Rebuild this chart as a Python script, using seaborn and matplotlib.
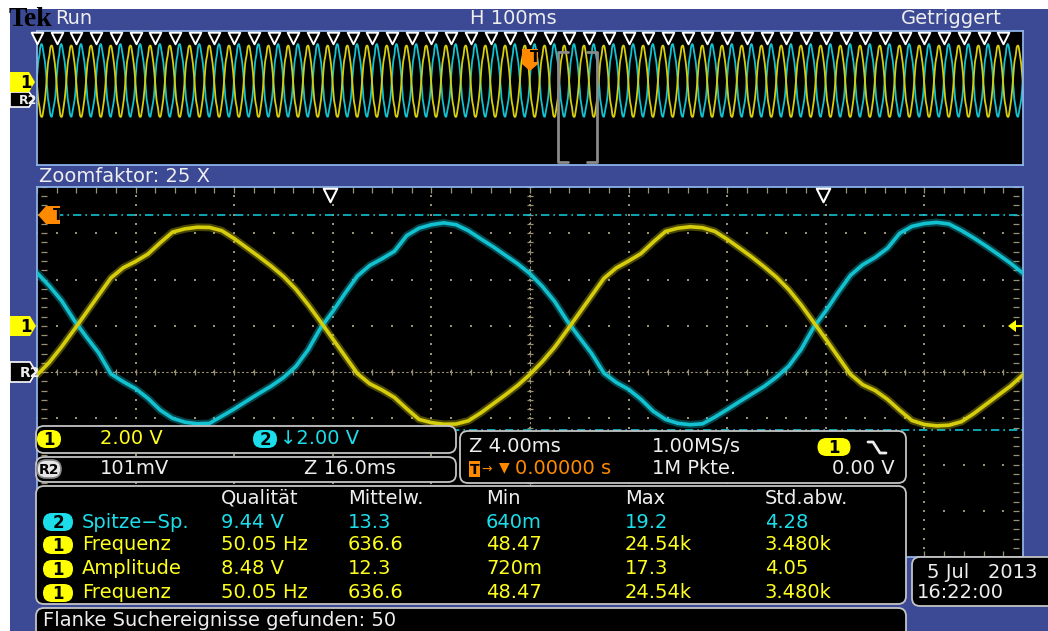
import numpy as np
import matplotlib
matplotlib.use("Agg")
import matplotlib.pyplot as plt
from matplotlib.patches import FancyBboxPatch, Polygon, Rectangle
from matplotlib.lines import Line2D
from matplotlib.transforms import Affine2D
import seaborn as sns

sample_ms = 0.5          # spacing of the read samples (zoom window, 4 ms/div)
# channel 1 (yellow) in volts, zoom window 0..40 ms
yellow_v = [-2.13, -1.58, -0.91, -0.18, 0.57, 1.32, 2.07, 2.51, 2.78, 3.10,
            3.59, 4.05, 4.19, 4.26, 4.25, 4.11, 3.77, 3.38, 2.99, 2.58,
            2.13, 1.58, 0.91, 0.18, -0.57, -1.32, -2.07, -2.51, -2.78, -3.10,
            -3.59, -4.05, -4.19, -4.26, -4.25, -4.11, -3.77, -3.38, -2.99, -2.58,
            -2.10, -1.55, -0.93, -0.20, 0.55, 1.30, 2.05, 2.50, 2.80, 3.12,
            3.62, 4.08, 4.22, 4.28, 4.24, 4.08, 3.74, 3.36, 2.97, 2.55,
            2.10, 1.56, 0.90, 0.16, -0.58, -1.34, -2.10, -2.55, -2.80, -3.18,
            -3.66, -4.10, -4.27, -4.33, -4.30, -4.15, -3.80, -3.40, -3.00, -2.60,
            -2.12]
# channel 2 (cyan, inverted display) in volts
cyan_v = [2.29, 1.72, 1.08, 0.25, -0.48, -1.17, -2.08, -2.42, -2.72, -3.14,
          -3.65, -4.00, -4.17, -4.24, -4.22, -3.91, -3.60, -3.26, -2.93, -2.61,
          -2.24, -1.76, -1.04, -0.10, 0.62, 1.41, 2.15, 2.61, 2.90, 3.22,
          3.90, 4.22, 4.37, 4.45, 4.37, 4.11, 3.76, 3.42, 3.05, 2.68,
          2.25, 1.70, 1.05, 0.22, -0.50, -1.20, -2.05, -2.45, -2.75, -3.18,
          -3.70, -4.05, -4.22, -4.28, -4.24, -3.95, -3.62, -3.28, -2.95, -2.62,
          -2.22, -1.74, -1.02, -0.08, 0.64, 1.44, 2.18, 2.64, 2.95, 3.35,
          4.00, 4.30, 4.42, 4.47, 4.40, 4.12, 3.80, 3.45, 3.08, 2.70,
          2.27]
period_ms = 20.0
trigger_ms = 500.0
zoom_start_ms = 528.1
zoom_span_ms = 40.0
# found edge events (falling edges of ch1) over the 1 s record
event_ms = [0, 20, 40, 60, 80, 100, 120, 140, 160, 180, 200, 220, 240, 260, 280,
            300, 320, 340, 360, 380, 400, 420, 440, 460, 480, 500, 520, 540, 560,
            580, 600, 620, 640, 660, 680, 700, 720, 740, 760, 780, 800, 820, 840,
            860, 880, 900, 920, 940, 960, 980]
level_hi_v = 4.8
level_lo_v = -4.5

meas_head = ["Qualität", "Mittelw.", "Min", "Max", "Std.abw."]
meas_src = ["2", "1", "1", "1"]
meas_name = ["Spitze\u2212Sp.", "Frequenz", "Amplitude", "Frequenz"]
meas_qual = ["9.44 V", "50.05 Hz", "8.48 V", "50.05 Hz"]
meas_mean = ["13.3", "636.6", "12.3", "636.6"]
meas_min = ["640m", "48.47", "720m", "48.47"]
meas_max = ["19.2", "24.54k", "17.3", "24.54k"]
meas_std = ["4.28", "3.480k", "4.05", "3.480k"]

# ---- colours ----
BLUE = "#3C4A95"
YEL = "#D6CE0C"
CYA = "#12C2D0"
YEL_T = "#FFFF1E"
CYA_T = "#1CDDEA"
ORANGE = "#FF8A00"
GRID = "#9A9074"
BORDER = "#8DB2E6"
EDGE = "#C4C4C4"
WHITE = "#EEEEEE"

sns.set_theme(style="dark", rc={"axes.facecolor": "black"})
plt.rcParams["font.family"] = ["DejaVu Sans"]

W, H = 1048, 631
fig = plt.figure(figsize=(W / 100, H / 100), dpi=100, facecolor="white")
# pixel coordinates, origin top-left
pix = Affine2D().scale(0.01, -0.01).translate(0, H / 100) + fig.dpi_scale_trans

fig.add_artist(Rectangle((10, 9), W, H, transform=pix, facecolor=BLUE,
                         edgecolor="none", zorder=-10))


def txt(x, y, s, c=WHITE, size=14, ha="left", weight="normal", z=10, **kw):
    fig.text(x, y, s, transform=pix, color=c, fontsize=size, ha=ha,
             va="center", fontweight=weight, zorder=z, **kw)


def poly(pts, fc, ec="none", lw=1.0, z=6):
    fig.add_artist(Polygon(pts, closed=True, transform=pix, facecolor=fc,
                           edgecolor=ec, lw=lw, zorder=z))


def panel(x0, y0, x1, y1, r=8):
    fig.add_artist(FancyBboxPatch((x0, y0), x1 - x0, y1 - y0,
                                  boxstyle=f"round,pad=0,rounding_size={r}",
                                  transform=pix, facecolor="black",
                                  edgecolor=EDGE, lw=1.3, zorder=5))


def pill(xc, yc, label, fc, tc="black", w=26, h=18, size=12, ec="none"):
    fig.add_artist(FancyBboxPatch((xc - w / 2, yc - h / 2), w, h,
                                  boxstyle=f"round,pad=0,rounding_size={h / 2}",
                                  transform=pix, facecolor=fc, edgecolor=ec,
                                  lw=1.2, zorder=7))
    txt(xc, yc + 1, label, c=tc, size=size, ha="center", weight="bold")


def plain(ax, lim_x, lim_y):
    ax.set_facecolor("black")
    ax.set_xlim(*lim_x)
    ax.set_ylim(*lim_y)
    ax.set_xticks([])
    ax.set_yticks([])
    ax.set_xlabel("")
    ax.set_ylabel("")
    for s in ax.spines.values():
        s.set_visible(True)
        s.set_color(BORDER)
        s.set_linewidth(1.3)


# ---- overview (1 s record) ----
ax_ov = fig.add_axes([37 / W, 1 - 165 / H, 986 / W, 134 / H])
plain(ax_ov, (0, 1000), (-10, 6))
n_per = int(period_ms / sample_ms)
reps = 53
t_ov = zoom_start_ms - 27 * period_ms + np.arange(n_per * reps) * sample_ms
sns.lineplot(x=t_ov, y=np.tile(cyan_v[:n_per], reps), ax=ax_ov, color=CYA,
             lw=1.3, estimator=None, sort=False, legend=False)
sns.lineplot(x=t_ov, y=np.tile(yellow_v[:n_per], reps), ax=ax_ov, color=YEL,
             lw=1.3, estimator=None, sort=False, legend=False)
ax_ov.scatter(event_ms, [0.948] * len(event_ms), marker="v", s=70,
              facecolor="black", edgecolor="white", lw=1.4,
              transform=ax_ov.get_xaxis_transform(), clip_on=False, zorder=5)
zs, ze = zoom_start_ms, zoom_start_ms + zoom_span_ms
for xa, xb in ((zs, zs + 10), (ze, ze - 10)):
    ax_ov.plot([xb, xa, xa, xb], [0.843, 0.843, 0.022, 0.022], color="#8A8A8A",
               lw=2, transform=ax_ov.get_xaxis_transform(), zorder=6)
ax_ov.set_xlim(0, 1000)

# ---- zoom window graticule ----
ax = fig.add_axes([37 / W, 1 - 557 / H, 986 / W, 370 / H])
plain(ax, (0, 40), (-10, 6))
xs_major = np.arange(4, 40, 4)
ys_major = np.arange(-8, 6, 2)
ys_minor = np.linspace(-10, 6, 41)
xs_minor = np.linspace(0, 40, 51)
gx, gy = np.meshgrid(xs_major, ys_minor)
ax.scatter(gx.ravel(), gy.ravel(), s=2.4, marker="s", color=GRID, lw=0, zorder=1)
gx, gy = np.meshgrid(xs_minor, ys_major)
ax.scatter(gx.ravel(), gy.ravel(), s=2.4, marker="s", color=GRID, lw=0, zorder=1)
ax.axvline(20, color=GRID, lw=0.8, ls=(0, (2, 2)), zorder=1)
ax.axhline(-2, color=GRID, lw=0.8, ls=(0, (2, 2)), zorder=1)
ax.plot([20] * len(ys_minor), ys_minor, ls="none", marker="_", ms=5, mew=0.9,
        color=GRID, zorder=1)
ax.plot(xs_minor, [-2] * len(xs_minor), ls="none", marker="|", ms=5, mew=0.9,
        color=GRID, zorder=1)
for xe in (0.3, 39.7):
    ax.plot([xe] * len(ys_minor), ys_minor, ls="none", marker="_", ms=4,
            mew=0.9, color=GRID, zorder=1)
for ye in (-9.85, 5.85):
    ax.plot(xs_minor, [ye] * len(xs_minor), ls="none", marker="|", ms=4,
            mew=0.9, color=GRID, zorder=1)

ax.axhline(level_hi_v, color=CYA, lw=1.2, ls=(0, (5, 2.4, 1, 2.4)), zorder=2)
ax.axhline(level_lo_v, color=CYA, lw=1.2, ls=(0, (5, 2.4, 1, 2.4)), zorder=2)

t_main = np.arange(len(yellow_v)) * sample_ms
for vals, col in ((cyan_v, CYA), (yellow_v, YEL)):
    sns.lineplot(x=t_main, y=vals, ax=ax, color=col, lw=5.5, alpha=0.35,
                 estimator=None, sort=False, legend=False, zorder=3)
    sns.lineplot(x=t_main, y=vals, ax=ax, color=col, lw=2.6,
                 estimator=None, sort=False, legend=False, zorder=4)
zoom_events = [e - zoom_start_ms for e in event_ms if zs <= e <= ze]
ax.scatter(zoom_events, [0.978] * len(zoom_events), marker="v", s=95,
           facecolor="black", edgecolor="white", lw=1.5,
           transform=ax.get_xaxis_transform(), clip_on=False, zorder=6)
ax.set_xlim(0, 40)
ax.set_ylim(-10, 6)

# ---- top bar ----
txt(9, 19, "Tek", c="black", size=20, weight="bold", family="Liberation Serif")
txt(55, 19, "Run")
txt(470, 19, "H 100ms")
txt(1002, 19, "Getriggert", ha="right")
txt(39, 177, "Zoomfaktor: 25 X")

# ---- side markers ----
poly([(10, 92), (29, 92), (34, 99), (29, 107), (10, 107)], "black", "white", 1.2)
txt(19, 100, "R2", size=9, weight="bold")
poly([(10, 72), (29, 72), (35, 82), (29, 92), (10, 92)], "#FFFF00", z=7)
txt(20, 83, "1", c="black", size=12, weight="bold")
poly([(522, 49), (538, 49), (538, 64), (530, 71), (522, 64)], ORANGE, z=7)
txt(530, 58, "T", c="black", size=11, weight="bold")

poly([(10, 316), (30, 316), (36, 326), (30, 336), (10, 336)], "#FFFF00")
txt(20, 327, "1", c="black", size=12, weight="bold")
poly([(10, 362), (30, 362), (36, 372), (30, 382), (10, 382)], "black", "white", 1.2)
txt(20, 373, "R2", size=10, weight="bold")
poly([(38, 215), (46, 206), (60, 206), (60, 224), (46, 224)], ORANGE)
txt(53, 215, "T", c="black", size=11, weight="bold")
poly([(1008, 326), (1016, 320), (1016, 332)], "#FFFF00")
fig.add_artist(Line2D([1015, 1022], [326, 326], transform=pix, color="#FFFF00",
                      lw=1.5, zorder=6))

# ---- info panels ----
panel(36, 426, 456, 453)
pill(49, 439, "1", "#FFFF00", w=24)
txt(100, 439, "2.00 V", c=YEL_T)
pill(265, 439, "2", CYA_T, w=24)
txt(280, 439, "\u21932.00 V", c=CYA_T)

panel(36, 457, 456, 482)
pill(49, 469, "R2", "#E6E6E6", w=24, size=10, ec="#888888")
txt(100, 469, "101mV")
txt(304, 469, "Z 16.0ms")

panel(460, 431, 906, 483)
txt(469, 447, "Z 4.00ms")
txt(652, 447, "1.00MS/s")
pill(834, 447, "1", "#FFFF00", w=33)
fig.add_artist(Line2D([868, 873, 880, 886], [442, 442, 453, 453], transform=pix,
                      color=WHITE, lw=2, zorder=8))
fig.add_artist(Rectangle((469, 461), 11, 16, transform=pix, facecolor=ORANGE,
                         edgecolor="none", zorder=7))
txt(474.5, 470, "T", c="black", size=10, ha="center", weight="bold")
txt(481, 469, "\u2192", c=ORANGE, size=9)
txt(499, 467, "\u25bc", c=ORANGE, size=10)
txt(515, 469, "0.00000 s", c=ORANGE)
txt(652, 469, "1M Pkte.")
txt(895, 469, "0.00 V", ha="right")

panel(36, 486, 906, 604)
col_x = [221, 348, 486, 625, 765]
for x, h in zip(col_x, meas_head):
    txt(x, 498, h)
row_y = [522, 545, 569, 593]
for i, y in enumerate(row_y):
    src = meas_src[i]
    c_t = CYA_T if src == "2" else YEL_T
    pill(58, y, src, CYA_T if src == "2" else "#FFFF00", w=30, h=18)
    txt(82, y, meas_name[i], c=c_t)
    vals = [meas_qual[i], meas_mean[i], meas_min[i], meas_max[i], meas_std[i]]
    for x, v in zip(col_x, vals):
        txt(x, y, v, c=c_t)

panel(36, 608, 906, 650)
txt(43, 621, "Flanke Suchereignisse gefunden: 50")

panel(912, 557, 1070, 606)
txt(927, 572, "5 Jul   2013")
txt(917, 593, "16:22:00")

fig.savefig("out.png", dpi=100, facecolor="white")
